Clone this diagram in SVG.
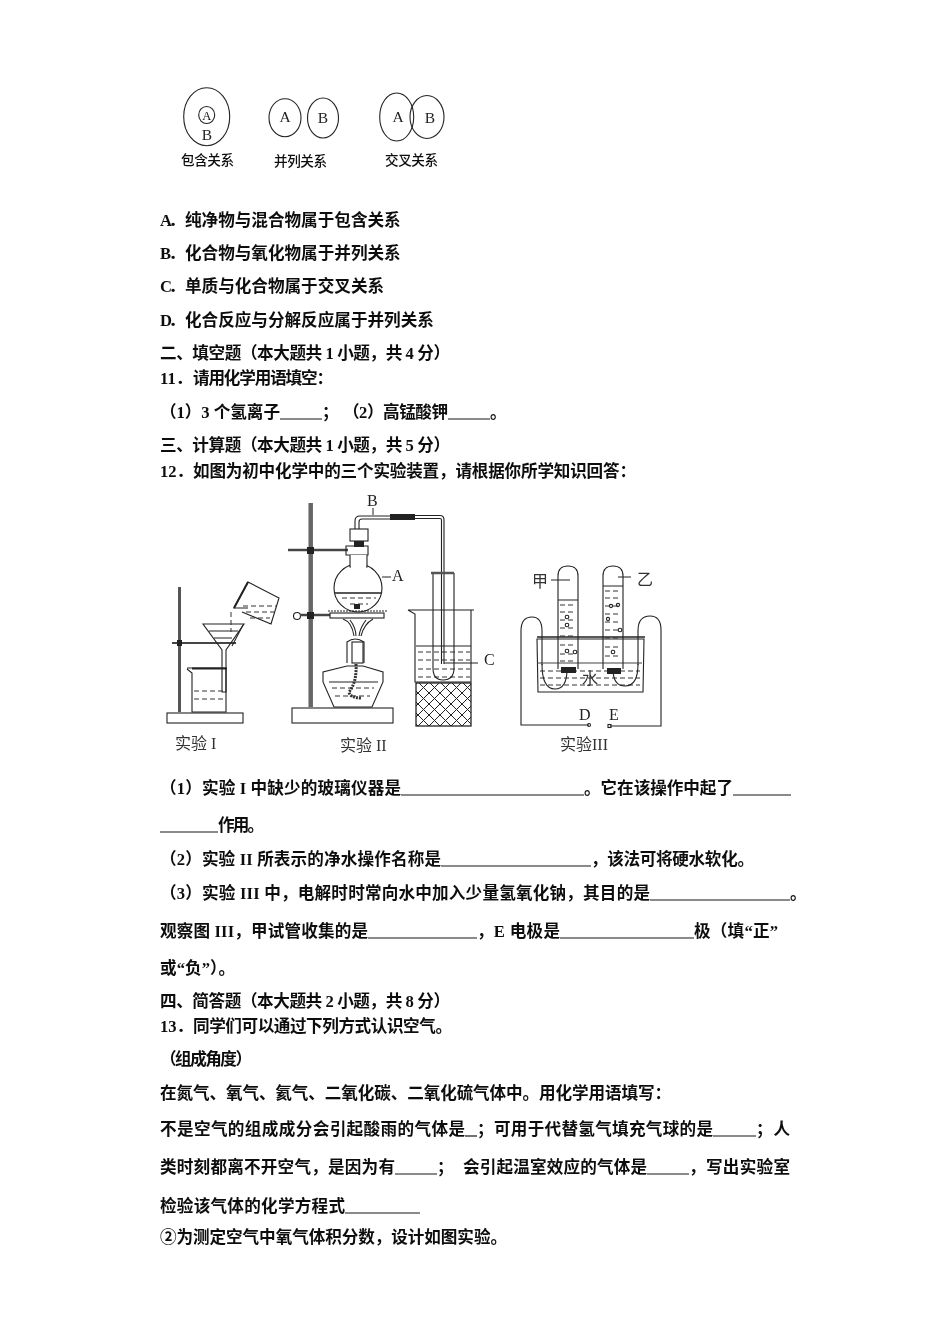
<svg xmlns="http://www.w3.org/2000/svg" width="950" height="1344" viewBox="0 0 950 1344">
<defs>
<style>
text{font-family:"Liberation Serif","Noto Sans CJK SC",serif;fill:#111}
.t{font-size:16.6px;font-weight:700}
.u{stroke:#111;stroke-width:1.2;fill:none}
.f{fill:none;stroke:#222;stroke-width:1.1}
.d{fill:none;stroke:#333;stroke-width:1;stroke-dasharray:5 3}
.w{fill:#fff;stroke:#222;stroke-width:1.1}
.k{fill:#222;stroke:none}
.c{font-size:13.6px;font-weight:500;fill:#111}
.v{font-size:15.5px;font-weight:400;fill:#222}
.l{font-size:16px;font-weight:400;fill:#222}
.cap{font-size:16px;font-weight:400;fill:#333}
</style>
<pattern id="hatch" width="11" height="11" patternUnits="userSpaceOnUse"><path d="M0 0L11 11M11 0L0 11" stroke="#222" stroke-width="1" fill="none"/></pattern>
<filter id="soft" x="-2%" y="-2%" width="104%" height="104%"><feGaussianBlur stdDeviation="0.35"/></filter>
<filter id="soft2" x="-2%" y="-2%" width="104%" height="104%"><feGaussianBlur stdDeviation="0.45"/></filter>
</defs>
<rect width="950" height="1344" fill="#fff"/>

<g id="venn" filter="url(#soft2)">
<g id="venn-include"><ellipse class="f" cx="206.700" cy="116.700" rx="23" ry="29"/><ellipse class="f" cx="206.700" cy="115" rx="8" ry="8.500"/><text x="206.700" y="119.500" text-anchor="middle" font-size="12.500" fill="#222">A</text><text class="v" x="207" y="140" text-anchor="middle">B</text><text class="c" x="181" y="165" textLength="53">包含关系</text></g>
<g id="venn-parallel"><ellipse class="f" cx="285" cy="117.700" rx="16" ry="19"/><ellipse class="f" cx="323" cy="118" rx="15.500" ry="20"/><text class="v" x="285" y="122" text-anchor="middle">A</text><text class="v" x="323" y="123" text-anchor="middle">B</text><text class="c" x="274" y="166" textLength="53">并列关系</text></g>
<g id="venn-cross"><ellipse class="f" cx="396.700" cy="117" rx="17" ry="24"/><ellipse class="f" cx="427" cy="117" rx="17" ry="21.500"/><text class="v" x="398" y="122" text-anchor="middle">A</text><text class="v" x="430" y="123" text-anchor="middle">B</text><text class="c" x="385" y="165" textLength="53">交叉关系</text></g>
</g>

<g id="text-top" filter="url(#soft)" transform="translate(0 1)">
<text class="t" x="160" y="225" dx="0 -3.600">A．纯净物与混合物属于包含关系</text>
<text class="t" x="160" y="258" dx="0 -2.700">B．化合物与氧化物属于并列关系</text>
<text class="t" x="160" y="291" dx="0 -3.600">C．单质与化合物属于交叉关系</text>
<text class="t" x="160" y="325" dx="0 -3.600">D．化合反应与分解反应属于并列关系</text>
<text class="t" x="160" y="358" textLength="290">二、填空题（本大题共 1 小题，共 4 分）</text>
<text class="t" x="160" y="383">11．</text><text class="t" x="193" y="383" textLength="140">请用化学用语填空：</text>
<text class="t" x="160" y="417" textLength="120">（1）3 个氢离子</text>
<line class="u" x1="280" y1="418" x2="322" y2="418"/>
<text class="t" x="322" y="417">；</text>
<text class="t" x="343" y="417" textLength="105">（2）高锰酸钾</text>
<line class="u" x1="448" y1="418" x2="490" y2="418"/>
<text class="t" x="490" y="417">。</text>
<text class="t" x="160" y="450" textLength="290">三、计算题（本大题共 1 小题，共 5 分）</text>
<text class="t" x="160" y="476">12．</text><text class="t" x="193" y="476" textLength="443">如图为初中化学中的三个实验装置，请根据你所学知识回答：</text>
</g>

<g id="experiment-1" filter="url(#soft2)">
<rect class="w" x="167" y="713" width="76" height="10"/>
<line x1="179.500" y1="587" x2="179.500" y2="712" stroke="#555" stroke-width="3"/>
<line x1="172" y1="643" x2="236" y2="643" stroke="#444" stroke-width="2"/>
<rect class="k" x="177" y="640" width="5" height="6"/>
<path class="f" d="M203 624H244L226 650V692H222V650Z"/>
<path class="f" d="M209 631H238M214 638H232"/>
<path class="f" d="M187 669L192 673V712H226V668H187"/>
<line x1="192" y1="668.500" x2="227" y2="668.500" stroke="#222" stroke-width="1.800"/>
<path class="d" d="M194 691H224M194 699H224"/>
<path class="f" d="M248 608L234 608 248 582 279 598 271 624 242 612"/>
<line x1="248" y1="582" x2="234" y2="608" stroke="#222" stroke-width="2"/>
<path class="d" d="M243 606H277M246 612H274M250 618H270"/>
<path class="f" d="M243 625L232 646"/>
<path class="d" d="M231 612V632"/>
</g>

<g id="experiment-2" filter="url(#soft2)">
<rect class="w" x="292" y="708" width="101" height="15"/>
<line x1="310.700" y1="503" x2="310.700" y2="707" stroke="#666" stroke-width="4.500"/>
<line x1="288" y1="550" x2="348" y2="550" stroke="#444" stroke-width="2.500"/>
<rect class="k" x="307" y="547" width="7" height="7"/>
<path class="f" d="M346 546H368V555H346Z"/>
<rect class="w" x="350" y="529" width="18" height="12"/>
<rect class="k" x="354" y="541" width="10" height="6"/>
<circle class="w" cx="358" cy="588" r="24"/>
<path class="w" d="M350 555V567H367V555"/>
<line x1="351" y1="567" x2="366" y2="567" stroke="#fff" stroke-width="2.500"/>
<line x1="335" y1="593" x2="381" y2="593" stroke="#222" stroke-width="1.300"/>
<path class="d" d="M342 598H376M350 604H368"/>
<path class="f" d="M355 529V521Q355 516 360 516H390M359 529V522Q359 519 362 519H390"/>
<rect class="k" x="390" y="514" width="25" height="6"/>
<path class="f" d="M415 515.500H440Q444 515.500 444 520V664M415 518.500H440Q441.500 518.500 441.500 520V664"/>
<line x1="373" y1="508" x2="373" y2="515" stroke="#222"/>
<line x1="382" y1="577" x2="391" y2="577" stroke="#222"/>
<text class="l" x="367" y="506">B</text>
<text class="l" x="392" y="581">A</text>
<circle class="f" cx="297" cy="616" r="3.500"/>
<line x1="300" y1="615" x2="332" y2="615" stroke="#444" stroke-width="2.500"/>
<rect class="k" x="307" y="612" width="7" height="7"/>
<rect class="w" x="330" y="613" width="54" height="5"/>
<path class="f" d="M328 611H387" stroke-dasharray="2 1"/>
<rect class="k" x="354" y="604" width="6" height="5"/>
<path class="f" d="M343 619Q352 622 354 636M373 619Q364 624 361 636M350 620Q356 628 356 636M366 620Q360 628 359 636"/>
<path class="f" d="M347 663V642Q355 636 364 642V663"/>
<rect class="w" x="352" y="642" width="11" height="21"/>
<path class="w" d="M347 666H363L383 672V682L372 707H334L323 682V672Z"/>
<line x1="329" y1="682" x2="378" y2="682" stroke="#222"/>
<path class="d" d="M332 688H374M335 696H370"/>
<path d="M356 664Q357 682 349 692Q350 698 362 698" fill="none" stroke="#333" stroke-width="3" stroke-dasharray="2 1"/>
</g>

<g id="gas-collection" filter="url(#soft2)">
<path class="f" d="M408 610H474M408 610L415 614V682H471V610"/>
<line x1="416" y1="646" x2="471" y2="646" stroke="#222"/>
<path class="d" d="M418 652H470M418 660H470M418 669H470M418 677H470"/>
<path class="f" d="M433 573V668Q433 680 443 680Q454 680 454 668V573"/>
<line x1="431" y1="573" x2="454" y2="573" stroke="#555" stroke-width="2.500"/>
<rect x="416" y="683" width="55" height="43" fill="url(#hatch)" stroke="#222" stroke-width="1.300"/>
<line x1="444" y1="663" x2="478" y2="663" stroke="#222"/>
<text class="l" x="484" y="665">C</text>
</g>

<g id="electrolysis" filter="url(#soft2)">
<path class="f" d="M537 639H644L643 692H538Z"/>
<line x1="537" y1="637" x2="645" y2="637" stroke="#222" stroke-width="1.500"/>
<line x1="537" y1="663" x2="642" y2="663" stroke="#444"/>
<path class="d" d="M540 671H640M540 678H640M540 685H640"/>
<path class="f" d="M558 669V576Q558 566 568 566Q578 566 578 576V669"/>
<line x1="558" y1="600" x2="578" y2="600" stroke="#222"/>
<path class="d" d="M560 605H576M560 612H576M560 620H576M560 628H576M560 636H576M560 645H576M560 654H576M560 661H576"/>
<path class="f" d="M603 669V576Q603 566 613 566Q623 566 623 576V669"/>
<line x1="603" y1="586" x2="623" y2="586" stroke="#222"/>
<path class="d" d="M605 591H621M605 598H621M605 606H621M605 614H621M605 622H621M605 630H621M605 638H621M605 647H621M605 656H621"/>
<path class="f" d="M542 664Q542 689 555 689Q567 689 567 669M613 669Q613 686 625 686Q638 686 638 664"/>
<circle class="f" cx="567" cy="617" r="1.800"/><circle class="f" cx="567" cy="625" r="1.800"/><circle class="f" cx="567" cy="651" r="1.800"/><circle class="f" cx="575" cy="652" r="1.800"/>
<circle class="f" cx="611" cy="606" r="1.600"/><circle class="f" cx="618" cy="605" r="1.600"/><circle class="f" cx="608" cy="619" r="1.600"/><circle class="f" cx="620" cy="630" r="1.800"/><circle class="f" cx="613" cy="652" r="1.800"/>
<rect class="k" x="561" y="667" width="15" height="6"/>
<rect class="k" x="607" y="668" width="14" height="6"/>
<path class="f" d="M589 725H521V631Q521 617 532 617Q542 617 542 631V665"/>
<path class="f" d="M610 726H661V630Q661 616 650 616Q638 616 638 631V665"/>
<circle class="f" cx="589" cy="725" r="1.500"/>
<rect class="f" x="608" y="724.500" width="3" height="3"/>
<line x1="551" y1="580" x2="570" y2="580" stroke="#222"/>
<line x1="618" y1="577" x2="631" y2="577" stroke="#222"/>
<text class="cap" x="532" y="587">甲</text>
<text class="cap" x="637" y="585">乙</text>
<text class="cap" x="582" y="684">水</text>
<text class="l" x="579" y="720">D</text>
<text class="l" x="609" y="720">E</text>
</g>

<g id="captions" filter="url(#soft2)">
<text class="cap" x="175" y="749">实验 I</text>
<text class="cap" x="340" y="751">实验 II</text>
<text class="cap" x="560" y="750">实验III</text>
</g>

<g id="text-bottom" filter="url(#soft)" transform="translate(0 1)">
<text class="t" x="160" y="793" textLength="241">（1）实验 I 中缺少的玻璃仪器是</text>
<line class="u" x1="401" y1="794" x2="584" y2="794"/>
<text class="t" x="584" y="793" textLength="149">。它在该操作中起了</text>
<line class="u" x1="733" y1="794" x2="791" y2="794"/>
<line class="u" x1="160" y1="831" x2="218" y2="831"/>
<text class="t" x="218" y="830" textLength="46">作用。</text>
<text class="t" x="160" y="864" textLength="281">（2）实验 II 所表示的净水操作名称是</text>
<line class="u" x1="441" y1="865" x2="591" y2="865"/>
<text class="t" x="591" y="864" textLength="163">，该法可将硬水软化。</text>
<text class="t" x="160" y="898" textLength="490">（3）实验 III 中，电解时时常向水中加入少量氢氧化钠，其目的是</text>
<line class="u" x1="650" y1="899" x2="790" y2="899"/>
<text class="t" x="790" y="898">。</text>
<text class="t" x="160" y="936" textLength="208">观察图 III，甲试管收集的是</text>
<line class="u" x1="368" y1="937" x2="477" y2="937"/>
<text class="t" x="477" y="936" textLength="83">，E 电极是</text>
<line class="u" x1="560" y1="937" x2="694" y2="937"/>
<text class="t" x="694" y="936" textLength="84">极（填“正”</text>
<text class="t" x="160" y="973" textLength="75">或“负”）。</text>
<text class="t" x="160" y="1006" textLength="290">四、简答题（本大题共 2 小题，共 8 分）</text>
<text class="t" x="160" y="1031">13．</text><text class="t" x="193" y="1031" textLength="259">同学们可以通过下列方式认识空气。</text>
<text class="t" x="160" y="1064" textLength="92">（组成角度）</text>
<text class="t" x="160" y="1098" textLength="511">在氮气、氧气、氦气、二氧化碳、二氧化硫气体中。用化学用语填写：</text>
<text class="t" x="160" y="1134" textLength="305">不是空气的组成成分会引起酸雨的气体是</text>
<line class="u" x1="465" y1="1135" x2="477" y2="1135"/>
<text class="t" x="477" y="1134" textLength="236">；可用于代替氢气填充气球的是</text>
<line class="u" x1="713" y1="1135" x2="756" y2="1135"/>
<text class="t" x="756" y="1134" textLength="34">；人</text>
<text class="t" x="160" y="1172" textLength="235">类时刻都离不开空气，是因为有</text>
<line class="u" x1="395" y1="1173" x2="437" y2="1173"/>
<text class="t" x="437" y="1172">；</text>
<text class="t" x="463" y="1172" textLength="184">会引起温室效应的气体是</text>
<line class="u" x1="647" y1="1173" x2="689" y2="1173"/>
<text class="t" x="689" y="1172" textLength="101">，写出实验室</text>
<text class="t" x="160" y="1211" textLength="185">检验该气体的化学方程式</text>
<line class="u" x1="345" y1="1212" x2="420" y2="1212"/>
<text class="t" x="160" y="1242" textLength="347">②为测定空气中氧气体积分数，设计如图实验。</text>
</g>
</svg>
